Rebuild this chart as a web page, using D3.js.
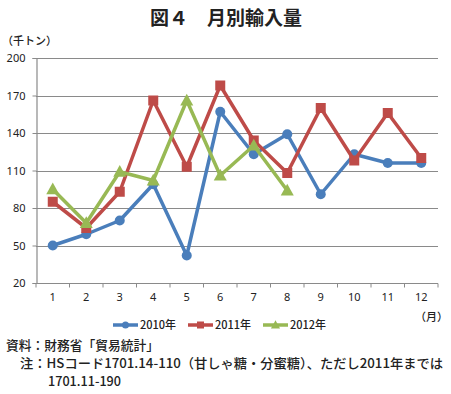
<!DOCTYPE html>
<html>
<head>
<meta charset="utf-8">
<script src="https://cdn.jsdelivr.net/npm/d3@7"></script>
<style>
  body { margin: 0; background: #fff; }
  text { font-family: "Noto Sans CJK JP", "Noto Sans", sans-serif; fill: #222; }
</style>
</head>
<body>
<div id="chart"></div>
<script>
// data
const months = ["1", "2", "3", "4", "5", "6", "7", "8", "9", "10", "11", "12"];
const yTicks = [20, 50, 80, 110, 140, 170, 200];
const v2010 = [50, 59, 70, 99, 42, 157, 123, 139, 91, 123, 116, 116];
const v2011 = [85, 64, 93, 166, 113, 178, 134, 108, 160, 118, 156, 120];
const v2012 = [95, 68, 109, 102, 166, 106, 130, 94];

const series = [
  { name: "2010年", values: v2010, color: "#4A7EBB", shape: "circle" },
  { name: "2011年", values: v2011, color: "#BE4B48", shape: "square" },
  { name: "2012年", values: v2012, color: "#98B954", shape: "triangle" }
];

const W = 451, H = 394;
const plotL = 36, plotR = 438, plotT = 58, plotB = 283;

const svg = d3.select("#chart").append("svg")
  .attr("width", W)
  .attr("height", H);

// title
svg.append("text")
  .attr("x", 226).attr("y", 25)
  .attr("text-anchor", "middle")
  .style("font-size", "19px").style("font-weight", "bold")
  .text("図４　月別輸入量");

svg.append("text")
  .attr("x", 2).attr("y", 45)
  .style("font-size", "11px")
  .style("font-weight", "500")
  .text("（千トン）");

const x = d3.scaleBand().domain(months).range([plotL, plotR]);
const y = d3.scaleLinear().domain([20, 200]).range([plotB, plotT]);

// gridlines
svg.append("g").selectAll("line")
  .data(yTicks)
  .join("line")
  .attr("x1", plotL).attr("x2", plotR)
  .attr("y1", d => Math.round(y(d)) + 0.5)
  .attr("y2", d => Math.round(y(d)) + 0.5)
  .attr("stroke", "#8a8a8a")
  .attr("stroke-width", 1.2);

// y axis
const yAxis = svg.append("g")
  .attr("transform", `translate(${plotL + 0.5},0)`)
  .call(d3.axisLeft(y).tickValues(yTicks).tickSize(4).tickPadding(7));
yAxis.select(".domain").attr("stroke", "#8a8a8a").attr("stroke-width", 1.2);
yAxis.selectAll(".tick line").attr("stroke", "#8a8a8a");
yAxis.selectAll("text").style("font-size", "11px").style("font-family", "Noto Sans, sans-serif").attr("fill", "#222");

// x axis
const xAxis = svg.append("g")
  .attr("transform", `translate(0,${Math.round(y(20)) + 0.5})`)
  .call(d3.axisBottom(x).tickSize(0).tickPadding(10));
xAxis.select(".domain").remove();
xAxis.selectAll("text").style("font-size", "11px").style("font-family", "Noto Sans, sans-serif").attr("fill", "#222");
// tick marks between categories
svg.append("g").selectAll("line")
  .data(months.concat(["end"]))
  .join("line")
  .attr("x1", (d, i) => i < months.length ? x(d) : plotR)
  .attr("x2", (d, i) => i < months.length ? x(d) : plotR)
  .attr("y1", Math.round(y(20)) + 0.5)
  .attr("y2", Math.round(y(20)) + 4.5)
  .attr("stroke", "#8a8a8a");

svg.append("text")
  .attr("x", 415).attr("y", 321)
  .style("font-size", "11px")
  .style("font-weight", "500")
  .text("（月）");

const cx = d => x(d) + x.bandwidth() / 2;

const drawMarker = (g, shape, color, size) => {
  if (shape === "circle") {
    g.append("circle").attr("r", size * 0.5).attr("fill", color);
  } else if (shape === "square") {
    g.append("rect").attr("x", -size * 0.5).attr("y", -size * 0.5)
      .attr("width", size).attr("height", size).attr("fill", color);
  } else {
    const s = size * 0.65;
    g.append("path").attr("d", `M0,${-s * 1.05}L${s},${s * 0.75}L${-s},${s * 0.75}Z`).attr("fill", color);
  }
};

// lines + markers
series.forEach(s => {
  const line = d3.line()
    .x((d, i) => cx(months[i]))
    .y(d => y(d));
  svg.append("path")
    .datum(s.values)
    .attr("d", line)
    .attr("fill", "none")
    .attr("stroke", s.color)
    .attr("stroke-width", 3.5)
    .attr("stroke-linejoin", "round");
  s.values.forEach((v, i) => {
    const g = svg.append("g").attr("transform", `translate(${cx(months[i])},${y(v)})`);
    drawMarker(g, s.shape, s.color, 10);
  });
});

// legend
const legendX = [113, 188, 263];
series.forEach((s, i) => {
  const lx = legendX[i], ly = 325;
  svg.append("line")
    .attr("x1", lx).attr("x2", lx + 25)
    .attr("y1", ly).attr("y2", ly)
    .attr("stroke", s.color).attr("stroke-width", 3.5);
  const g = svg.append("g").attr("transform", `translate(${lx + 12.5},${ly})`);
  drawMarker(g, s.shape, s.color, 7);
  svg.append("text")
    .attr("x", lx + 27).attr("y", ly + 4)
    .style("font-size", "11px")
    .style("font-weight", "500")
    .text(s.name);
});

// notes
const notes = [
  { x: 6, y: 350, t: "資料：財務省「貿易統計」", len: 153 },
  { x: 20, y: 368, t: "注：HSコード1701.14-110（甘しゃ糖・分蜜糖）、ただし2011年までは", len: 423 },
  { x: 48, y: 386, t: "1701.11-190", len: 73 }
];
svg.append("g").selectAll("text")
  .data(notes)
  .join("text")
  .attr("x", d => d.x).attr("y", d => d.y)
  .attr("textLength", d => d.len)
  .attr("lengthAdjust", "spacingAndGlyphs")
  .style("font-size", "13px")
  .style("font-weight", "500")
  .text(d => d.t);
</script>
</body>
</html>
